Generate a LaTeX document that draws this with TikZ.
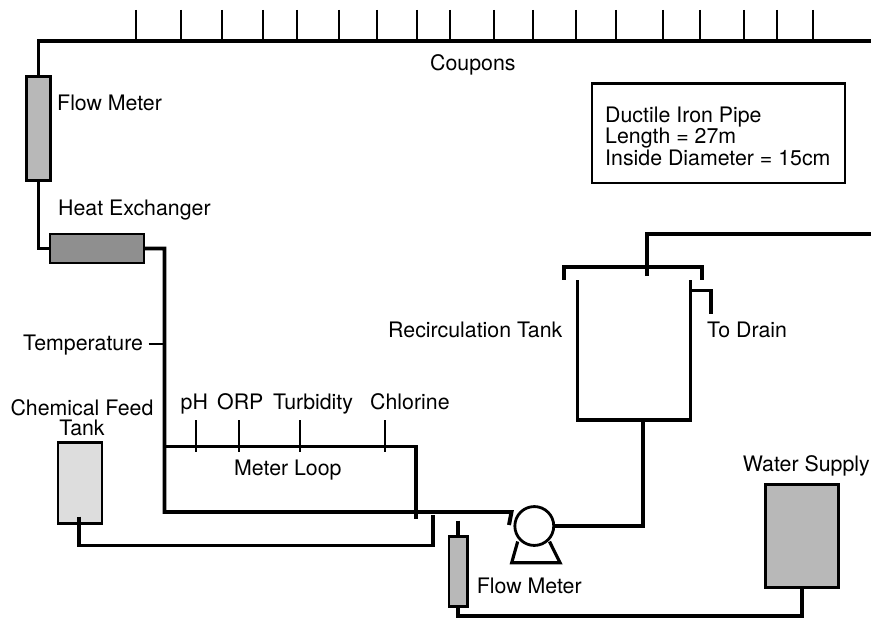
\documentclass[tikz,border=0pt]{standalone}
\usepackage{fontspec}
\setmainfont{TeX Gyre Heros}
\usepackage{xcolor}
\usetikzlibrary{positioning}
\definecolor{wsgray}{RGB}{184,184,184}
\definecolor{wsdark}{RGB}{143,143,143}
\definecolor{wslight}{RGB}{221,221,221}

\begin{document}
\begin{tikzpicture}[
  x=0.03cm,y=-0.03cm,
  font=\fontsize{18.2}{17.4}\selectfont,
  unit/.style={draw,line width=2.3pt,inner sep=0pt,outer sep=0pt},
  pipe/.style={line width=3.4pt},
  wall/.style={line width=2.7pt},
  probe/.style={line width=1.8pt},
  lab/.style={anchor=base west,inner sep=0pt}
]
  \useasboundingbox (0,0) rectangle (871,618);

  % main loop
  \node[unit,fill=wsgray,minimum width=20pt,minimum height=89.3pt] (fmtop) at (38.5,128.5) {};
  \node[unit,fill=wsdark,minimum width=80pt,minimum height=24.6pt] (hx) at (97,248.5) {};
  \coordinate (pipeTL) at (38.5,41); \coordinate (pipeTR) at (871,41);
  \coordinate (hxL) at (38.5,248.5);
  \coordinate (loopBL) at (164.5,512);
  \coordinate (pumpInA) at (511.5,512); \coordinate (pumpInB) at (509,525);
  \draw[pipe] (fmtop.north)--(pipeTL)--(pipeTR);
  \draw[pipe] (fmtop.south)--(hxL)--(hx.west);
  \draw[pipe] (hx.east)-|(loopBL)--(pumpInA)--(pumpInB);

  % meter loop
  \coordinate (mlL) at (164.5,446.5); \coordinate (mlR) at (416,446.5); \coordinate (mlB) at (416,519);
  \draw[pipe] (mlL)--(mlR)--(mlB);
  \node[lab] (mlabel) at (234,475) {Meter Loop};
  \node[lab] (phlabel) at (180.5,409.5) {pH};
  \node[lab] (orplabel) at (217,409.5) {ORP};
  \node[lab] (turblabel) at (273,409.5) {Turbidity};
  \node[lab] (cllabel) at (370,409.5) {Chlorine};
  \coordinate (phA) at (195.7,420); \coordinate (phB) at (195.7,452);
  \coordinate (orpA) at (239,420); \coordinate (orpB) at (239,452);
  \coordinate (turbA) at (299.7,420); \coordinate (turbB) at (299.7,452);
  \coordinate (clA) at (385.3,420); \coordinate (clB) at (385.3,452);
  \draw[probe] (phA)--(phB); \draw[probe] (orpA)--(orpB);
  \draw[probe] (turbA)--(turbB); \draw[probe] (clA)--(clB);
  \node[lab] (templabel) at (23,350) {Temperature};
  \coordinate (tempA) at (148.5,344); \coordinate (tempB) at (164.5,344);
  \draw[probe] (tempA)--(tempB);

  % coupons
  \foreach \x [count=\i] in {136.3,181.3,221.7,263,297.3,339,377,417.3,450.3,494,533.3,576,615.7,663.3,700,744,776.7,812.7}{
    \coordinate (cpA\i) at (\x,10); \coordinate (cpB\i) at (\x,41);
    \draw[probe] (cpA\i)--(cpB\i);
  }
  \node[lab] (cplabel) at (430,71) {Coupons};
  \node[lab] (fmtoplabel) at (57,110.7) {Flow Meter};
  \node[lab] (hxlabel) at (58,215) {Heat Exchanger};

  % info box
  \node[unit,minimum width=216pt,minimum height=85pt,line width=2pt] (info) at (718.7,133.3) {};
  \node[lab,align=left,anchor=west,font=\fontsize{18.2}{18.4}\selectfont] (infotext) at (605,136) {Ductile Iron Pipe\\Length = 27m\\Inside Diameter = 15cm};

  % chemical feed
  \node[unit,fill=wslight,minimum width=37.4pt,minimum height=69.2pt] (chem) at (80,483.3) {};
  \node[align=center,inner sep=0pt,anchor=base] (chemlabel) at (82,435.5) {Chemical Feed\\Tank};
  \coordinate (chemA) at (79,516.5); \coordinate (chemB) at (79,545.5);
  \coordinate (chemC) at (432.7,545.5); \coordinate (chemD) at (432.7,515);
  \draw[pipe] (chemA)--(chemB)--(chemC)--(chemD);

  % pump
  \coordinate (baseA) at (517.7,541.5); \coordinate (baseB) at (511.7,562.7);
  \coordinate (baseC) at (560,562.7); \coordinate (baseD) at (549.5,541.5);
  \draw[wall] (baseA)--(baseB)--(baseC)--(baseD);
  \node[draw,circle,line width=2.4pt,inner sep=0pt,outer sep=0pt,minimum size=33.2pt,fill=white] (pump) at (534.3,526) {};
  \coordinate (tankOut) at (643,420);
  \draw[pipe] (pump.east)-|(tankOut);

  % recirculation tank
  \coordinate (tankTL) at (577.3,280); \coordinate (tankBL) at (577.3,420);
  \coordinate (tankBR) at (690.7,420); \coordinate (tankTR) at (690.7,280);
  \draw[wall] (tankTL)--(tankBL)--(tankBR)--(tankTR);
  \coordinate (lidA) at (564,279.5); \coordinate (lidB) at (564,267);
  \coordinate (lidC) at (702,267); \coordinate (lidD) at (702,279.5);
  \draw[wall] (lidA)--(lidB)--(lidC)--(lidD);
  \coordinate (inA) at (646.7,276); \coordinate (inB) at (646.7,234); \coordinate (inC) at (871,234);
  \draw[pipe] (inA)--(inB)--(inC);
  \coordinate (drainA) at (690.7,290.7); \coordinate (drainB) at (711,290.7); \coordinate (drainC) at (711,314);
  \draw[wall] (drainA)--(drainB)--(drainC);
  \node[lab] (tanklabel) at (388,337) {Recirculation Tank};
  \node[lab] (drainlabel) at (707,337) {To Drain};

  % water supply
  \node[unit,fill=wsgray,minimum width=62.3pt,minimum height=88.4pt] (supply) at (801.7,536) {};
  \node[lab] (supplylabel) at (742.7,471.7) {Water Supply};
  \node[unit,fill=wsgray,minimum width=16pt,minimum height=60pt] (fmlow) at (458.3,571.3) {};
  \node[lab] (fmlowlabel) at (476.7,593) {Flow Meter};
  \coordinate (fmlowTop) at (458.3,520.7); \coordinate (supplyLow) at (801.7,615.7);
  \draw[pipe] (fmlowTop)--(fmlow.north);
  \draw[pipe] (fmlow.south)|-(supplyLow)--(supply.south);
\end{tikzpicture}
\end{document}
